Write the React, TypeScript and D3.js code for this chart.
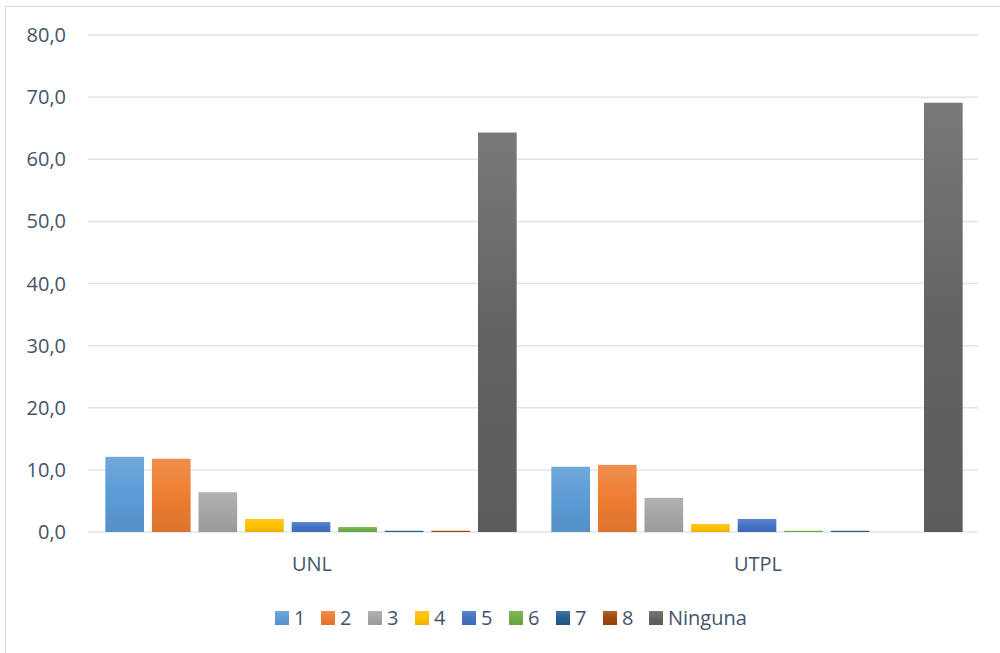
import React from "react";
import * as d3 from "d3";

const categories = ["UNL", "UTPL"];
const seriesNames = ["1", "2", "3", "4", "5", "6", "7", "8", "Ninguna"];
const unlValues = [12.1, 11.8, 6.4, 2.1, 1.6, 0.8, 0.2, 0.2, 64.3];
const utplValues = [10.5, 10.8, 5.5, 1.3, 2.1, 0.2, 0.2, 0.0, 69.1];
const yTicks = [0, 10, 20, 30, 40, 50, 60, 70, 80];
const seriesColors = ["#5B9BD5", "#ED7D31", "#A5A5A5", "#FFC000", "#4472C4", "#70AD47", "#255E91", "#9E480E", "#636363"];

const W = 1000;
const H = 653;
const plotLeft = 88;
const plotRight = 978;
const plotTop = 35;
const plotBottom = 532;
const textColor = "#44546A";
const font = "'Open Sans', 'Noto Sans', sans-serif";

export default function App() {
  const values = [unlValues, utplValues];
  const y = d3.scaleLinear().domain([0, 80]).range([plotBottom, plotTop]);
  const x0 = d3.scaleBand<string>().domain(categories).range([plotLeft, plotLeft + 892]).paddingInner(0.06).paddingOuter(0.03);
  const x1 = d3.scaleBand<string>().domain(seriesNames).range([0, x0.bandwidth()]).paddingInner(0.17).paddingOuter(0.085);

  const legendX = [275, 321, 368, 415, 462, 509, 556, 603, 649];

  return (
    <svg width={W} height={H} style={{ position: "absolute", left: 0, top: 0, display: "block" }} fontFamily={font}>
      <defs>
        {seriesColors.map((c, i) => {
          const base = d3.color(c)!;
          const top = d3.interpolateRgb(c, "#ffffff")(0.14);
          const bottom = (d3.color(c) as d3.RGBColor).darker(0.2).formatHex();
          return (
            <linearGradient key={i} id={`g${i}`} x1="0" y1="0" x2="0" y2="1">
              <stop offset="0%" stopColor={top} />
              <stop offset="50%" stopColor={base.formatHex()} />
              <stop offset="100%" stopColor={bottom} />
            </linearGradient>
          );
        })}
      </defs>
      <rect x={0} y={0} width={W} height={H} fill="#ffffff" />
      <rect x={5.5} y={6.5} width={1100} height={700} fill="#ffffff" stroke="#d9d9d9" strokeWidth={1} />
      {yTicks.map((t) => (
        <g key={t}>
          <line x1={plotLeft} x2={plotRight} y1={y(t)} y2={y(t)} stroke="#e0e4ea" strokeWidth={1.5} />
          <text x={66} y={y(t)} dy="0.35em" textAnchor="end" fontSize={20} fill={textColor}>
            {t.toFixed(1).replace(".", ",")}
          </text>
        </g>
      ))}
      {categories.map((cat, ci) => (
        <g key={cat} transform={`translate(${x0(cat)},0)`}>
          {seriesNames.map((s, si) => {
            const v = values[ci][si];
            if (v <= 0) return null;
            return (
              <rect
                key={s}
                x={x1(s)}
                y={y(v)}
                width={x1.bandwidth()}
                height={y(0) - y(v)}
                fill={`url(#g${si})`}
              />
            );
          })}
          <text x={x0.bandwidth() / 2 + 1} y={571} textAnchor="middle" fontSize={20} fill={textColor}>
            {cat}
          </text>
        </g>
      ))}
      {seriesNames.map((s, i) => (
        <g key={s} transform={`translate(${legendX[i]},611)`}>
          <rect x={0} y={0} width={14} height={14} fill={`url(#g${i})`} />
          <text x={19} y={7} dy="0.36em" fontSize={20} fill={textColor}>
            {s}
          </text>
        </g>
      ))}
    </svg>
  );
}
